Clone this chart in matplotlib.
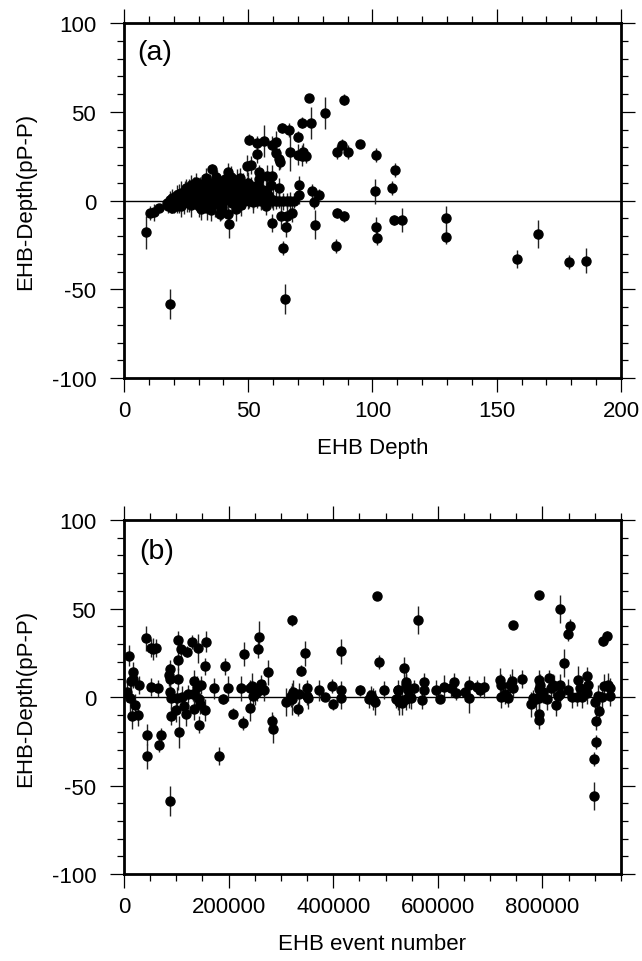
import matplotlib
matplotlib.use("Agg")
import matplotlib.pyplot as plt
from matplotlib.ticker import MultipleLocator

plt.rcParams['font.family'] = ['Liberation Sans', 'DejaVu Sans']
plt.rcParams['axes.unicode_minus'] = False

# ---------------- Panel (a): EHB depth vs difference ----------------
# outliers / isolated points
a_depth_out = [9.0, 10.5, 12.1, 14.2, 17.8, 19.2, 21.5, 18.5, 35.3, 41.7, 38.8, 41.7, 42.4, 46.7,
               49.4, 51.0, 50.4, 53.6, 56.5, 59.4, 61.0, 53.6, 61.0, 62.4, 62.8, 63.7, 66.4, 66.7,
               69.9, 69.9, 71.5, 73.2, 71.9, 71.5, 74.4, 75.1, 80.9, 88.7, 85.6, 87.9, 90.1, 95.1,
               101.5, 109.2, 107.7, 101.1, 54.3, 57.7, 59.5, 62.5, 70.3, 70.4, 75.7, 78.3, 76.3,
               59.7, 63.2, 65.7, 67.5, 65.2, 64.0, 64.9, 76.9, 85.6, 88.4, 85.2, 101.4, 101.8,
               108.7, 111.7, 129.7, 129.6, 158.0, 166.5, 179.0, 186.0]
a_diff_out = [-17.9, -7.0, -6.7, -4.4, -3.3, -4.2, -3.3, -58.5, 17.6, 16.2, -7.6, -7.6, -13.2, 12.5,
              19.6, 20.2, 34.3, 32.6, 33.7, 31.4, 33.1, 26.2, 26.8, 23.4, 21.5, 40.8, 39.9, 27.5,
              36.0, 25.8, 25.2, 25.2, 27.5, 43.8, 57.6, 43.8, 49.5, 56.8, 27.5, 31.4, 27.5, 31.6,
              25.6, 17.4, 6.9, 5.2, 15.9, 14.0, 14.0, 6.9, 8.7, 3.3, 5.4, 3.3, -0.7,
              -12.7, -8.9, -8.9, -7.0, -14.8, -26.9, -55.7, -13.6, -7.0, -8.9, -25.6, -15.1, -21.3,
              -11.0, -11.0, -10.0, -20.7, -33.0, -19.0, -34.6, -34.0]
a_err_out = [9.4, 4, 5, 2, 4, 3, 4, 8.5, 3, 5, 4, 5, 8, 6,
             6, 5, 3, 4, 9, 5, 6, 5, 5, 6, 4, 3, 4, 11,
             3, 6, 6, 4, 5, 3, 2, 9, 9, 3, 4, 3, 4, 2,
             4, 4, 4, 7, 4, 6, 6, 6, 5, 5, 4, 3, 4,
             5, 7, 6, 5, 6, 4, 8.5, 8, 3, 3, 4, 6, 4,
             3, 7, 7, 4, 5, 8, 4, 7]

# dense shallow cluster
a_depth_cl = [17.5, 18.5, 19.0, 19.5, 20.0, 20.5, 21.0, 21.5, 22.0, 22.5, 23.0, 23.5, 24.0, 24.5,
              25.0, 25.5, 26.0, 26.5, 27.0, 27.5, 28.0, 28.5, 29.0, 29.5, 30.0, 30.5, 31.0, 31.5,
              32.0, 32.5, 33.0, 33.5, 34.0, 34.5, 35.0, 35.5, 36.0, 36.5, 37.0, 37.5, 38.0, 38.5,
              39.0, 39.5, 40.0, 40.5, 41.0, 41.5, 42.0, 42.5, 43.0, 43.5, 44.0, 44.5, 45.0, 45.5,
              46.0, 46.5, 47.0, 47.5, 48.0, 48.5, 49.0, 50.0, 51.0, 52.0, 53.0, 54.0, 55.0, 56.0,
              57.0, 58.0, 59.0, 60.0,
              22.0, 24.0, 26.0, 28.0, 30.0, 32.0, 34.0, 36.0, 38.0, 40.0, 42.0, 44.0, 46.0, 48.0,
              50.0, 52.0, 29.0, 33.0, 37.0, 31.0, 35.0, 39.0, 27.0, 25.0, 23.0, 45.0, 43.0,
              50.5, 52.0, 53.5, 55.0, 56.5, 58.0, 59.5, 61.0, 62.5, 64.0, 65.5, 67.0, 68.5,
              49.5, 51.5, 53.0, 55.5, 57.0, 58.5, 54.5]
a_diff_cl = [-1.5, 0.5, -3.0, 1.5, -1.0, 2.0, 0.0, 3.0, -2.0, 1.0, 4.0, 2.0, -1.5, 5.0,
             3.0, 0.5, 6.0, 2.5, -2.5, 4.5, 8.0, 1.5, 5.5, 3.0, -3.0, 7.0, 2.0, 9.5,
             4.0, 0.0, 6.5, -4.0, 3.5, 10.0, 5.0, 1.0, 8.0, -2.0, 4.0, 11.0, 6.0, 2.0,
             9.0, -3.5, 5.5, 12.0, 3.0, 7.5, 0.5, 10.5, 4.5, -1.5, 8.5, 2.5, 6.0, 11.5,
             1.0, 7.0, -2.5, 4.0, 9.5, 0.0, 5.0, 2.0, 7.5, -1.0, 4.5, 9.0, 1.5, 6.0,
             -3.0, 3.0, 8.5, 0.5,
             3.5, 2.0, -0.5, 3.5, 1.0, 7.5, 0.5, 4.5, -0.5, 2.0, 6.5, 4.0, 9.0, 3.0,
             10.0, 5.0, 10.5, 12.5, 13.0, -5.0, -5.5, -6.0, 8.5, 7.0, -3.0, -4.5, 13.5,
             0.0, 0.0, 0.0, -0.5, 0.0, 0.0, 0.0, 0.0, 0.0, -0.5, 0.0, 0.0, 0.0,
             7.0, 4.0, 8.0, 3.0, 5.5, 2.0, 12.0]
a_err_cl = [4, 5, 4, 5, 6, 4, 5, 6, 5, 4, 7, 5, 6, 6,
            5, 7, 6, 5, 7, 6, 5, 6, 7, 5, 6, 6, 7, 5,
            6, 7, 6, 7, 6, 5, 7, 6, 6, 7, 6, 6, 7, 6,
            5, 7, 6, 6, 7, 6, 5, 6, 7, 6, 6, 7, 5, 6,
            7, 6, 6, 7, 6, 5, 6, 7, 6, 6, 5, 7, 6, 6,
            5, 6, 7, 6,
            6, 5, 6, 7, 6, 5, 6, 7, 6, 5, 6, 7, 6, 5,
            6, 6, 5, 6, 5, 6, 6, 5, 6, 5, 6, 7, 6,
            4, 5, 4, 5, 4, 5, 4, 5, 4, 5, 4, 5, 4,
            6, 5, 6, 7, 6, 5, 6]

a_depth = a_depth_out + a_depth_cl
a_diff = a_diff_out + a_diff_cl
a_err = a_err_out + a_err_cl

# ---------------- Panel (b): EHB event number vs difference ----------------
b_event = [10200, 6400, 11500, 17800, 16600, 12800, 14700, 21000, 26200, 28700, 42100, 43400, 44000,
           51600, 56100, 60600, 51600, 65000, 67600, 70100, 87400, 86700, 88600, 87400, 89900, 89300,
           88000, 100700, 100100, 103300, 102600, 103300, 104500, 109700, 110900, 115300, 117900,
           119800, 123000, 129400, 131300, 134500, 133800, 134500, 140800, 139000, 143900, 145300,
           143900, 147200, 156800, 155500, 155500, 172700, 181600, 190000, 193100, 198900, 207800,
           224300, 228900, 227500, 240900, 244100, 241500, 246700, 250500, 254900, 257500, 256200,
           262000, 268300, 275300, 283600, 284300, 309200, 320600, 319900, 321800, 322500, 333300,
           335200, 338400, 345500, 349900, 349300, 352400, 372300, 384300, 397100, 399600, 414300,
           414300, 414300, 450600, 468500, 471600, 476700, 479900, 488200, 483100, 497100, 523300,
           523300, 525800,
           520100, 524600, 532200, 536000, 538600, 539800, 538600, 542400, 545600, 548800, 555100,
           561500, 570400, 573600, 573600, 596600, 604200, 611900, 625200, 631000, 634800, 652600,
           659700, 660300, 674400, 680700, 687700, 719000, 720300, 720800, 729100, 734800, 738000,
           742500, 744400, 743200, 761000, 777600, 782600, 787800, 792900, 792900, 792900, 792900,
           792900, 795400, 801800, 809400, 812000, 815900, 819700, 822800, 825400, 829200, 834300,
           833700, 834300, 841900, 848300, 852800, 849500, 856000, 865500, 868700, 872500, 876400,
           885300, 887800, 885900, 900600, 902500, 902500, 898100, 898100, 907600, 907000, 915300,
           922900, 917800, 924900, 929300, 929300, 913400, 794100]
b_diff = [23.3, 3.0, -0.6, 13.9, 10.2, 9.2, -10.9, -4.5, -10.2, 6.9, 33.2, -21.3, -33.5,
          27.5, 27.1, 27.5, 5.6, 4.9, -27.1, -21.3, 15.8, 12.4, 10.2, 3.0, -0.6, -10.9,
          -58.8, -0.6, -7.3, 10.2, 21.1, 32.4, -19.6, 27.1, 0.0, -4.9, -9.6,
          25.6, 1.7, 31.2, 1.7, 1.7, 9.0, -6.8, 27.5, 5.6, -1.1, -3.8,
          -15.6, 6.8, 31.2, 17.3, -7.3, 4.9, -33.5, -1.1, 17.3, 4.9, -9.4,
          4.9, 24.3, -14.7, 4.9, 6.4, -6.4, 0.7, 1.7, 2.6, 33.7, 27.1,
          7.2, 3.8, 13.9, -13.4, -18.1, -3.0, 43.3, 0.4, -1.1, 2.6, -6.8,
          1.7, 14.9, 24.7, 4.9, 0.7, -0.7, 3.8, 0.0, 6.0, -4.1, 4.1,
          -0.6, 25.8, 3.8, -1.1, 1.1, -1.1, -3.0, 20.0, 56.9, 3.8, 3.8,
          -1.1, -3.0,
          -1.1, 3.8, -3.4, 16.4, -1.1, 7.0, 8.7, 3.8, 0.7, -0.8, 4.9,
          43.5, -1.5, 8.7, 4.1, 3.8, -1.1, 5.6, 4.9, 8.7, 2.3, 3.0,
          7.0, -0.8, 5.6, 4.1, 5.6, 9.4, 6.8, 0.0, 1.9, -0.4, 6.8,
          9.0, 4.9, 40.7, 10.2, -4.1, -0.8, -1.1, 9.4, 4.5, -0.4, -9.6,
          -12.8, 6.8, 2.6, -1.1, 10.5, 4.9, 6.8, 6.4, -4.5, 0.7, 6.8,
          1.9, 49.7, 19.2, 35.4, 39.9, 4.1, -0.2, 0.0, 9.4, 4.9, -0.2,
          12.1, 6.8, 2.3, -3.0, -13.4, -25.6, -35.0, -56.1, -7.9, 0.7, 31.6,
          34.3, 6.0, 6.8, 4.9, 0.7, -0.2, 57.8]
b_err = [6, 6, 8, 6, 5, 5, 7, 6, 6, 5, 7, 6, 7,
         5, 6, 5, 5, 5, 4, 4, 5, 6, 5, 5, 6, 5,
         8.5, 6, 7, 6, 6, 5, 9, 5, 6, 6, 7,
         3, 5, 4, 4, 4, 6, 6, 8, 6, 6, 6,
         5, 5, 6, 5, 6, 6, 5, 3, 5, 7, 3,
         7, 7, 4, 5, 7, 7, 7, 6, 5, 9, 5,
         5, 6, 7, 5, 8, 8, 3, 6, 9, 7, 4,
         6, 3, 7, 5, 5, 6, 6, 2, 4, 3, 5,
         6, 7, 3, 5, 5, 6, 7, 4, 2, 5, 3,
         6, 7,
         5, 6, 7, 6, 6, 6, 6, 5, 7, 6, 5,
         8, 5, 5, 5, 6, 2, 7, 5, 5, 4, 5,
         5, 8, 4, 4, 6, 7, 6, 6, 6, 5, 6,
         7, 5, 2, 5, 7, 5, 6, 6, 6, 7, 6,
         5, 6, 6, 6, 5, 5, 6, 6, 6, 6, 6,
         6, 8, 8, 4, 4, 6, 6, 5, 8, 5, 6,
         5, 5, 6, 5, 5, 4, 4, 8, 5, 6, 3,
         3, 7, 7, 6, 6, 6, 2]

a_xticks = [0, 50, 100, 150, 200]
b_xticks = [0, 200000, 400000, 600000, 800000]
yticks = [-100, -50, 0, 50, 100]

FS = 16


def style(ax):
    for s in ax.spines.values():
        s.set_linewidth(2.0)
        s.set_color('black')
    ax.tick_params(which='both', direction='out', top=True, right=True,
                   labeltop=False, labelright=False, colors='black')
    ax.tick_params(which='major', length=10, width=0.9, labelsize=FS)
    ax.tick_params(axis='x', which='major', pad=6)
    ax.tick_params(axis='y', which='major', pad=10)
    ax.tick_params(which='minor', length=5, width=0.9)
    ax.set_ylim(-100, 100)
    ax.set_yticks(yticks)
    ax.yaxis.set_minor_locator(MultipleLocator(10))
    ax.axhline(0, color='black', lw=1.0, zorder=2)
    ax.set_ylabel('EHB-Depth(pP-P)', fontsize=FS)
    ax.yaxis.set_label_coords(-0.177, 0.5)


fig = plt.figure(figsize=(6.42, 9.62), dpi=100)
ax1 = fig.add_axes([0.1931, 0.606, 0.7741, 0.369])
ax2 = fig.add_axes([0.1931, 0.0904, 0.7741, 0.368])

ax1.errorbar(a_depth, a_diff, yerr=a_err, fmt='o', ms=6.5, color='black',
             ecolor='#222222', elinewidth=1.0, capsize=0, zorder=3)
style(ax1)
ax1.set_xlim(0, 200)
ax1.set_xticks(a_xticks)
ax1.xaxis.set_minor_locator(MultipleLocator(10))
ax1.set_xlabel('EHB Depth', fontsize=FS, labelpad=11)
ax1.text(0.027, 0.918, '(a)', transform=ax1.transAxes, fontsize=20.5, ha='left', va='center')

ax2.errorbar(b_event, b_diff, yerr=b_err, fmt='o', ms=6.5, color='black',
             ecolor='#222222', elinewidth=1.0, capsize=0, zorder=3)
style(ax2)
ax2.set_xlim(0, 950000)
ax2.set_xticks(b_xticks)
ax2.set_xticklabels([str(v) for v in b_xticks])
ax2.xaxis.set_minor_locator(MultipleLocator(50000))
ax2.set_xlabel('EHB event number', fontsize=FS, labelpad=11)
ax2.text(0.031, 0.912, '(b)', transform=ax2.transAxes, fontsize=20.5, ha='left', va='center')

fig.savefig('out.png', dpi=100)
